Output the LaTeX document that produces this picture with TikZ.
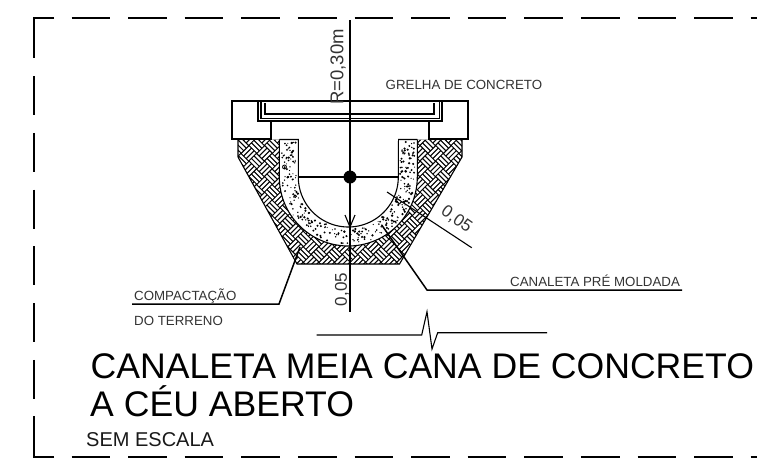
\documentclass[tikz,border=0pt]{standalone}
\usepackage{fontspec}
\setmainfont{Liberation Sans}
\tikzset{
  ln/.style={draw=black,line width=1.1pt,line join=miter},
  thick ln/.style={draw=black,line width=1.5pt},
  lead/.style={draw=black,line width=1.1pt},
  lbl/.style={inner sep=0pt,anchor=base west,text=black!80,font=\fontsize{13.3}{15}\selectfont},
  dim/.style={inner sep=0pt,anchor=center,text=black!80},
  ttl/.style={inner sep=0pt,anchor=base west,text=black,font=\fontsize{35.6}{38}\selectfont},
}
\begin{document}
\begin{tikzpicture}[x=1pt,y=-1pt]
\useasboundingbox (0,0) rectangle (757,459);
\clip (0,0) rectangle (757,459);
\fill[white] (0,0) rectangle (757,459);
% border
\draw[ln] (54,18) -- (34,18) -- (34,58);
\draw[ln] (54,457) -- (34,457) -- (34,416);
\foreach \k in {0,...,12}{
  \draw[ln] ({71.5+56.6*\k},18) -- ({110.1+56.6*\k},18);
  \draw[ln] ({71.5+56.6*\k},457) -- ({110.1+56.6*\k},457);
}
\foreach \k in {0,...,5}{
  \draw[ln] (34,{76+56.75*\k}) -- (34,{115+56.75*\k});
}
% hatch
\begin{scope}
\clip (238,139.5) -- (462,139.5) -- (462,157) -- (399.5,264) -- (297,264) -- (238,157) -- cycle;
\fill[black] (230,130) rectangle (470,270);
\begin{scope}[shift={(350,200)},rotate=45]
\foreach \i in {-11,...,11}{
 \foreach \j in {-11,...,11}{
  \pgfmathtruncatemacro{\parity}{mod(abs(\i+\j),2)}
  \ifnum\parity=0
    \foreach \t in {1.9,5.5,9.1}{
      \draw[white,line width=2.2pt] ({\i*11+0.5},{\j*11+\t}) -- ({\i*11+10.5},{\j*11+\t});
    }
  \else
    \foreach \t in {1.9,5.5,9.1}{
      \draw[white,line width=2.2pt] ({\i*11+\t},{\j*11+0.5}) -- ({\i*11+\t},{\j*11+10.5});
    }
  \fi
 }
}
\end{scope}
\end{scope}
\draw[ln] (238,139.5) -- (238,157) -- (297,264) -- (399.5,264) -- (462,157) -- (462,139.5);
% concrete U
\fill[white] (279.3,139.5) -- (279.3,177) -- plot[domain=180:0,samples=60] ({348.3+69*cos(\x)},{177+69*sin(\x)}) -- (417.3,139.5) -- cycle;
% dots
\pgfmathsetseed{7}
\foreach \n in {1,...,210}{
  \pgfmathsetmacro{\angl}{rnd*180}
  \pgfmathsetmacro{\rad}{52+rnd*15}
  \pgfmathsetmacro{\sz}{0.55+rnd*0.75}
  \fill[black] ({348.3+\rad*cos(\angl)},{177+\rad*sin(\angl)}) circle[radius=\sz pt];
}
\foreach \n in {1,...,45}{
  \pgfmathsetmacro{\xx}{281+rnd*15}
  \pgfmathsetmacro{\yy}{142+rnd*35}
  \pgfmathsetmacro{\sz}{0.55+rnd*0.75}
  \fill[black] (\xx,\yy) circle[radius=\sz pt];
  \pgfmathsetmacro{\xx}{400+rnd*15}
  \pgfmathsetmacro{\yy}{142+rnd*35}
  \pgfmathsetmacro{\sz}{0.55+rnd*0.75}
  \fill[black] (\xx,\yy) circle[radius=\sz pt];
}
\draw[black,line width=0.8pt] (284.5,167) circle[radius=2pt];
% U outlines
\draw[ln] (279.3,139.5) -- (298.3,139.5) -- (298.3,177) -- plot[domain=180:0,samples=60] ({348.3+50*cos(\x)},{177+50*sin(\x)}) -- (398.3,139.5) -- (417.3,139.5);
\draw[ln] (279.3,139.5) -- (279.3,177) -- plot[domain=180:0,samples=60] ({348.3+69*cos(\x)},{177+69*sin(\x)}) -- (417.3,139.5);
% blocks and grate
\fill[white] (299,121) rectangle (397.7,141);
\draw[thick ln] (258,101) -- (232,101) -- (232,139) -- (271,139) -- (271,121);
\draw[thick ln] (442,101) -- (468,101) -- (468,139) -- (429,139) -- (429,121);
\draw[thick ln] (232,101) -- (468,101);
\draw[thick ln] (258,101) -- (258,121) -- (442,121) -- (442,101);
\draw[ln] (261,101) -- (261,118.5) -- (439.3,118.5) -- (439.3,101);
\draw[ln] (265,103) -- (265,114) -- (434,114) -- (434,103);
% radius / centre lines
\coordinate (ctop) at (350,20);
\coordinate (cbot) at (350,312);
\coordinate (cen) at (350,177);
\draw[thick ln] (ctop) -- (cbot);
\draw[lead] (298.3,177) -- (cen) -- (398.3,177);
\fill[black] (cen) circle[radius=6.5pt];
\draw[lead] (345,215) -- (350,227) -- (355,215);
\coordinate (da) at (387,192);
\coordinate (db) at (471.7,247.7);
\draw[lead] (da) -- (db);
% leaders
\coordinate (la) at (300,247);
\coordinate (lb) at (279,304);
\coordinate (lc) at (132,304);
\draw[thick ln] (la) -- (lb) -- (lc);
\coordinate (ra) at (381.7,225);
\coordinate (rb) at (427,290);
\coordinate (rc) at (682,290);
\draw[thick ln] (ra) -- (rb) -- (rc);
% break line
\coordinate (ba) at (316.7,335);
\coordinate (bb) at (421.7,335);
\coordinate (bc) at (427,311.7);
\coordinate (bd) at (432,349);
\coordinate (be) at (437.7,332.7);
\coordinate (bf) at (547,332.7);
\draw[ln] (ba) -- (bb) -- (bc) -- (bd) -- (be) -- (bf);
% texts
\node[dim,rotate=90,font=\fontsize{18.5}{20}\selectfont] (rtxt) at (338,67) {R=0,30m};
\node[dim,rotate=90,font=\fontsize{17}{19}\selectfont] (ztxt) at (342,289.5) {0,05};
\node[dim,rotate=-35,font=\fontsize{17}{19}\selectfont] (dtxt) at (456.5,219.5) {0,05};
\node[lbl] (grelha) at (385.5,89) {GRELHA DE CONCRETO};
\node[lbl] (canal) at (510,286.5) {CANALETA PRÉ MOLDADA};
\node[lbl] (comp) at (134,300) {COMPACTAÇÃO};
\node[lbl] (terr) at (134,325) {DO TERRENO};
\node[ttl] (t1) at (90.5,378.5) {CANALETA MEIA CANA DE CONCRETO};
\node[ttl] (t2) at (90,416) {A CÉU ABERTO};
\node[inner sep=0pt,anchor=base west,text=black!90,font=\fontsize{20}{22}\selectfont] (t3) at (86,446) {SEM ESCALA};
\end{tikzpicture}
\end{document}
